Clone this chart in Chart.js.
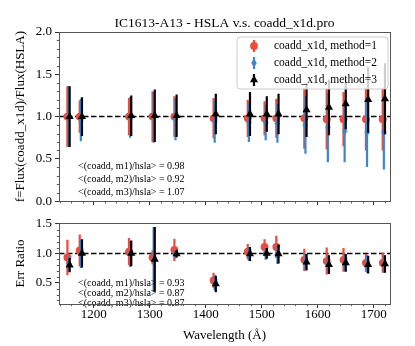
<!DOCTYPE html>
<html><head><meta charset="utf-8">
<script src="https://cdn.jsdelivr.net/npm/chart.js@4.4.0/dist/chart.umd.min.js"></script>
<style>
html,body{margin:0;padding:0;background:#fff;}
#wrap{position:relative;width:415px;height:346px;overflow:hidden;}
#c1{position:absolute;left:0;top:0;width:415px;height:212px;}
#c2{position:absolute;left:0;top:212px;width:415px;height:134px;}
</style></head><body>
<div id="wrap"><canvas id="c1" width="415" height="212"></canvas><canvas id="c2" width="415" height="134"></canvas></div>
<script>
// ---------------- data ----------------
const wavelengths = [1153,1175,1263,1305,1344,1414,1475,1505,1526,1576,1616,1646,1686,1716];

const fluxM1    = [1.00,1.00,1.00,1.00,1.00,0.98,0.98,0.98,0.98,0.98,0.97,0.97,0.97,0.97];
const fluxM1Err = [0.36,0.19,0.22,0.30,0.24,0.24,0.22,0.20,0.23,0.36,0.36,0.32,0.37,0.37];
const fluxM2    = [1.00,0.96,0.99,0.99,0.97,0.94,0.93,0.93,0.92,0.90,0.87,0.83,0.815,0.815];
const fluxM2Err = [0.36,0.25,0.24,0.30,0.25,0.25,0.23,0.21,0.23,0.34,0.41,0.37,0.41,0.44];
const fluxM3    = [1.00,1.00,1.01,1.01,1.01,1.03,1.03,1.03,1.03,1.08,1.11,1.15,1.20,1.21];
const fluxM3Err = [0.36,0.23,0.24,0.31,0.25,0.24,0.26,0.21,0.24,0.32,0.33,0.30,0.39,0.42];

const errM1    = [0.93,1.05,1.03,0.93,1.06,0.54,1.03,1.11,1.11,0.89,0.87,0.89,0.84,0.84];
const errM1Err = [0.30,0.27,0.23,0.12,0.19,0.13,0.13,0.13,0.19,0.19,0.23,0.20,0.15,0.17];
const errM2    = [0.83,0.99,0.99,0.90,0.99,0.50,0.99,0.99,0.98,0.86,0.82,0.85,0.82,0.82];
const errM2Err = [0.14,0.24,0.22,0.55,0.07,0.13,0.12,0.10,0.16,0.14,0.16,0.15,0.15,0.15];
const errM3    = [0.80,1.00,1.00,0.90,0.99,0.48,0.99,1.00,0.99,0.85,0.81,0.84,0.81,0.82];
const errM3Err = [0.12,0.24,0.22,0.55,0.06,0.14,0.12,0.09,0.16,0.14,0.16,0.15,0.15,0.15];

const meanFlux = [0.98, 0.92, 1.07];
const meanErr  = [0.93, 0.87, 0.87];

const legendLabels = ['coadd_x1d, method=1','coadd_x1d, method=2','coadd_x1d, method=3'];
const xTicks    = [1200,1300,1400,1500,1600,1700];
const yTopTicks = [0.0,0.5,1.0,1.5,2.0];
const yBotTicks = [0.5,1.0,1.5];
const refY = [1, 1];

// ---------------- styles ----------------
const X_MIN = 1138, X_MAX = 1729;
const COLORS = ['#ef4a3c', '#3a87c9', '#000000'];
const OFFSETS = [0, 2, 4];
const FONT = "'Liberation Serif', 'DejaVu Serif', serif";
Chart.defaults.font.family = FONT;
Chart.defaults.color = '#000';
Chart.defaults.animation = false;

function diamondCanvas(color) {
  const c = document.createElement('canvas');
  c.width = 6; c.height = 9;
  const g = c.getContext('2d');
  g.fillStyle = color;
  g.beginPath(); g.moveTo(3,0.3); g.lineTo(5.7,4.5); g.lineTo(3,8.7); g.lineTo(0.3,4.5); g.closePath(); g.fill();
  return c;
}
const STYLES = ['circle', diamondCanvas(COLORS[1]), 'triangle'];
const RADII = [3.9, 3, 4.7];

function buildDatasets(vals, errs) {
  const ds = [];
  ds.push({type:'line', data:[{x:X_MIN,y:refY[0]},{x:X_MAX,y:refY[1]}], borderColor:'#000', borderWidth:1.5,
           borderDash:[5.5,2.5], pointRadius:0, showLine:true, order:10});
  for (let m = 0; m < 3; m++) {
    const seg = [];
    wavelengths.forEach((w,i) => {
      const x = w + OFFSETS[m];
      seg.push({x, y: vals[m][i]-errs[m][i]}, {x, y: vals[m][i]+errs[m][i]}, {x, y: null});
    });
    ds.push({type:'line', data:seg, borderColor:COLORS[m], borderWidth:2.2, pointRadius:0, showLine:true,
             spanGaps:false, order:9-2*m});
    ds.push({type:'scatter', label:legendLabels[m], data:wavelengths.map((w,i)=>({x:w+OFFSETS[m], y:vals[m][i]})),
             pointStyle:STYLES[m], pointRadius:RADII[m], backgroundColor:COLORS[m], borderColor:COLORS[m],
             borderWidth:0, order:8-2*m});
  }
  return ds;
}

const framePlugin = {
  id:'frame',
  afterDraw(chart) {
    const {ctx, chartArea:a} = chart;
    const xs = chart.scales.x, ys = chart.scales.y;
    ctx.save();
    ctx.strokeStyle = '#333'; ctx.lineWidth = 0.8;
    for (let v = Math.ceil(xs.min/20)*20; v <= xs.max; v += 20) {
      if (v % 100 === 0) continue;
      const px = Math.round(xs.getPixelForValue(v)) + 0.5;
      ctx.beginPath(); ctx.moveTo(px, a.bottom); ctx.lineTo(px, a.bottom + 2.2); ctx.stroke();
    }
    for (let k = Math.ceil(ys.min*10); k <= Math.floor(ys.max*10); k++) {
      if (k % 5 === 0) continue;
      const py = Math.round(ys.getPixelForValue(k/10)) + 0.5;
      ctx.beginPath(); ctx.moveTo(a.left, py); ctx.lineTo(a.left - 2.2, py); ctx.stroke();
    }
    ctx.strokeStyle = '#555'; ctx.lineWidth = 1;
    ctx.strokeRect(Math.round(a.left)+0.5, Math.round(a.top)+0.5, Math.round(a.right-a.left), Math.round(a.bottom-a.top));
    ctx.restore();
  }
};

function annotationPlugin(means, dy, dx, lineStep) {
  return {
    id:'annot',
    afterDatasetsDraw(chart) {
      const {ctx, chartArea:a} = chart;
      ctx.save();
      ctx.font = '10px ' + FONT; ctx.fillStyle = '#000'; ctx.textBaseline = 'middle'; ctx.textAlign = 'left';
      means.forEach((v,i) => {
        ctx.fillText('<(coadd, m' + (i+1) + ')/hsla> = ' + v.toFixed(2), a.left + dx, a.top + dy + i*lineStep);
      });
      ctx.restore();
    }
  };
}

const legendPlugin = {
  id:'legendBox',
  afterDatasetsDraw(chart) {
    const {ctx, chartArea:a} = chart;
    const w = 151, h = 52, x0 = a.right - w - 2, y0 = a.top + 5, r = 3;
    ctx.save();
    ctx.beginPath();
    ctx.moveTo(x0+r, y0); ctx.lineTo(x0+w-r, y0); ctx.arcTo(x0+w, y0, x0+w, y0+r, r);
    ctx.lineTo(x0+w, y0+h-r); ctx.arcTo(x0+w, y0+h, x0+w-r, y0+h, r);
    ctx.lineTo(x0+r, y0+h); ctx.arcTo(x0, y0+h, x0, y0+h-r, r);
    ctx.lineTo(x0, y0+r); ctx.arcTo(x0, y0, x0+r, y0, r); ctx.closePath();
    ctx.fillStyle = 'rgba(255,255,255,0.8)'; ctx.fill();
    ctx.strokeStyle = '#cccccc'; ctx.lineWidth = 1; ctx.stroke();
    legendLabels.forEach((lab, m) => {
      const cy = y0 + 9 + m*17, cx = x0 + 17;
      ctx.strokeStyle = COLORS[m]; ctx.lineWidth = 2.2;
      ctx.beginPath(); ctx.moveTo(cx, cy-6); ctx.lineTo(cx, cy+6); ctx.stroke();
      ctx.fillStyle = COLORS[m];
      ctx.beginPath();
      if (m === 0) { ctx.arc(cx, cy, 3.9, 0, Math.PI*2); }
      else if (m === 1) { ctx.moveTo(cx, cy-4.3); ctx.lineTo(cx+2.8, cy); ctx.lineTo(cx, cy+4.3); ctx.lineTo(cx-2.8, cy); }
      else { ctx.moveTo(cx, cy-4.7); ctx.lineTo(cx+4.1, cy+2.35); ctx.lineTo(cx-4.1, cy+2.35); }
      ctx.closePath(); ctx.fill();
      ctx.fillStyle = '#000'; ctx.font = '11.5px ' + FONT; ctx.textBaseline = 'middle'; ctx.textAlign = 'left';
      ctx.fillText(lab, x0 + 37, cy);
    });
    ctx.restore();
  }
};

function setTicks(list) { return s => { s.ticks = list.map(v => ({value: v})); }; }

const gridCommon = { drawOnChartArea:false, drawTicks:true, tickLength:4, color:'#333', tickColor:'#333', lineWidth:1 };

// ---------------- top chart ----------------
new Chart(document.getElementById('c1'), {
  type:'scatter',
  data:{ datasets: buildDatasets([fluxM1,fluxM2,fluxM3],[fluxM1Err,fluxM2Err,fluxM3Err]) },
  options:{
    responsive:false, animation:false,
    layout:{ padding:{ left:0, right:25, top:0, bottom:0 } },
    plugins:{
      legend:{ display:false }, tooltip:{ enabled:false },
      title:{ display:true, text:'IC1613-A13 - HSLA v.s. coadd_x1d.pro', fullSize:false,
              font:{ size:13.5, weight:'normal', family:FONT, lineHeight:1.2 }, color:'#000', padding:{ top:15, bottom:0.8 } }
    },
    scales:{
      x:{ type:'linear', min:X_MIN, max:X_MAX, position:'bottom', afterBuildTicks:setTicks(xTicks),
          ticks:{ display:false }, grid:gridCommon, border:{ display:false },
          afterFit: s => { s.height = 9; } },
      y:{ type:'linear', min:0, max:2, afterBuildTicks:setTicks(yTopTicks),
          ticks:{ padding:3, font:{ size:13, family:FONT }, color:'#000', callback: v => v.toFixed(1) },
          grid:gridCommon, border:{ display:false },
          title:{ display:true, text:'f=Flux(coadd_x1d)/Flux(HSLA)', font:{ size:13, family:FONT, lineHeight:1.2 }, color:'#000', padding:{ top:13, bottom:0 } },
          afterFit: s => { s.width = 59; } }
    }
  },
  plugins:[framePlugin, annotationPlugin(meanFlux, 134.7, 19, 13), legendPlugin]
});

// ---------------- bottom chart ----------------
new Chart(document.getElementById('c2'), {
  type:'scatter',
  data:{ datasets: buildDatasets([errM1,errM2,errM3],[errM1Err,errM2Err,errM3Err]) },
  options:{
    responsive:false, animation:false,
    layout:{ padding:{ left:0, right:25, top:6, bottom:0 } },
    plugins:{ legend:{ display:false }, tooltip:{ enabled:false } },
    scales:{
      x:{ type:'linear', min:X_MIN, max:X_MAX, position:'bottom', afterBuildTicks:setTicks(xTicks),
          ticks:{ padding:0, font:{ size:13, family:FONT, lineHeight:1 }, color:'#000', maxRotation:0, callback: v => String(v) },
          grid:gridCommon, border:{ display:false },
          title:{ display:true, text:'Wavelength (Å)', font:{ size:13, family:FONT, lineHeight:1.2 }, color:'#000', padding:{ top:0, bottom:3 } },
          afterFit: s => { s.height = 42; } },
      y:{ type:'linear', min:0.14, max:1.52, afterBuildTicks:setTicks(yBotTicks),
          ticks:{ padding:3, font:{ size:13, family:FONT }, color:'#000', callback: v => v.toFixed(1) },
          grid:gridCommon, border:{ display:false },
          title:{ display:true, text:'Err Ratio', font:{ size:13, family:FONT, lineHeight:1.2 }, color:'#000', padding:{ top:13, bottom:0 } },
          afterFit: s => { s.width = 59; } }
    }
  },
  plugins:[framePlugin, annotationPlugin(meanErr, 61, 19, 9.7)]
});
</script>
</body></html>
